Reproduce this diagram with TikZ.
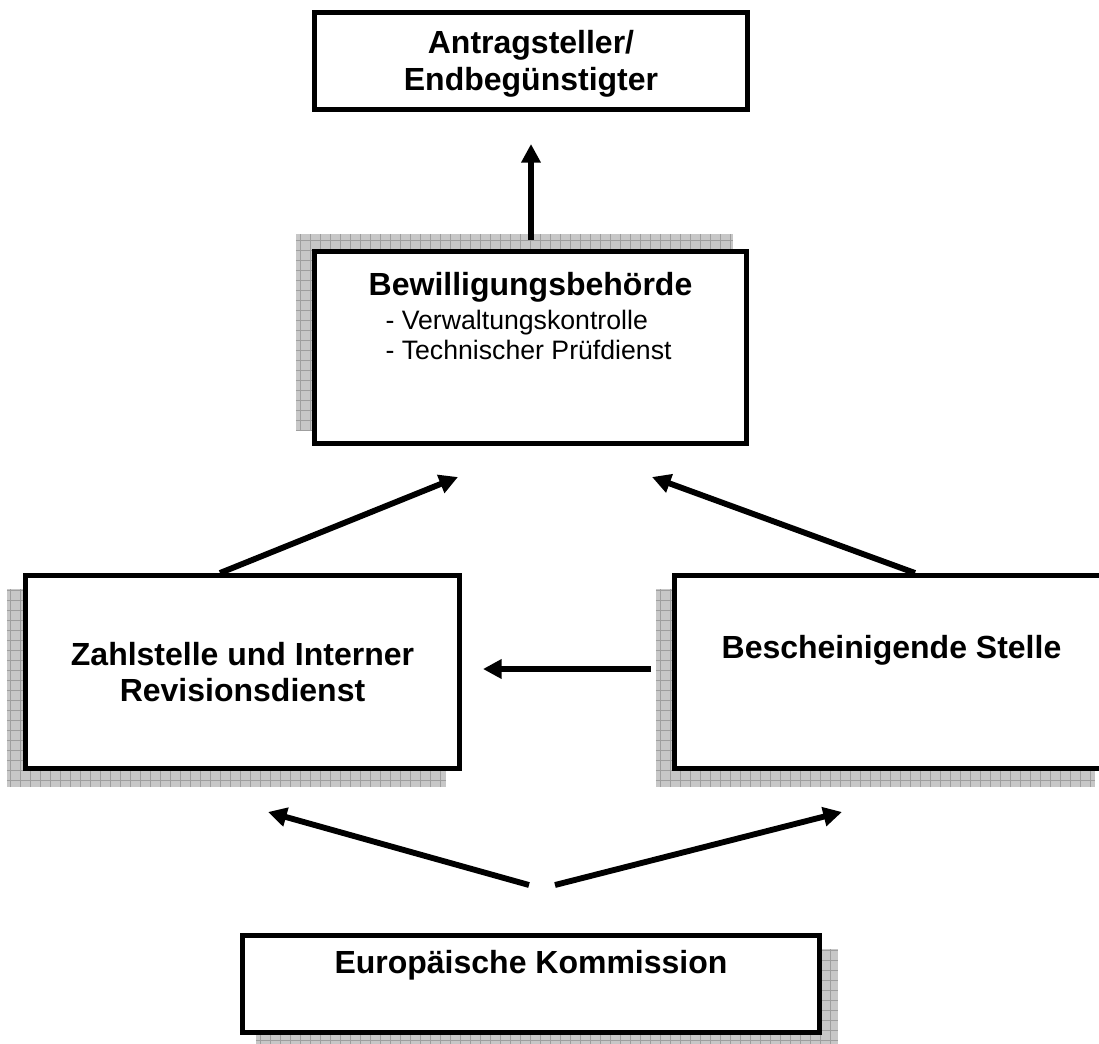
\documentclass[tikz,border=0pt]{standalone}
\usepackage{fontspec}
\setmainfont{Liberation Sans}
\usetikzlibrary{arrows.meta, calc, backgrounds}
\tikzset{
    box/.style = {draw, line width=1.9pt, fill=white, inner sep=0pt, align=center,
        font=\fontsize{12}{13.8}\selectfont\bfseries},
    title/.style = {inner sep=0pt, font=\fontsize{12}{13.8}\selectfont\bfseries},
    sub/.style = {inner sep=0pt, align=left, font=\fontsize{10}{11.3}\selectfont},
    flow/.style = {line width=2.2pt, -{Triangle[length=7pt, width=7pt]}},
}
\tikzset{
    shadow fill/.style = {fill=black!22},
    shadow grid/.style = {draw=black!38, line width=0.3pt, step=3.75pt},
}

\begin{document}
\begin{tikzpicture}[x=0.375pt, y=-0.375pt]
                \useasboundingbox (0,0) rectangle (1099,1044);
                \clip (0,0) rectangle (1099,1044);

                \node[box, minimum width=162.4pt, minimum height=36.4pt] (antrag) at (531, 61) {};
                \node[title, align=center] (antragtitle) at (531, 64) {Antragsteller/\\Endbegünstigter};

                \node[box, minimum width=162pt, minimum height=72pt] (bew) at (530.5, 347.5) {};
                \node[title] (bewtitle) at (530.5, 287) {Bewilligungsbehörde};
                \node[sub, anchor=west] (bewlist) at (385, 335) {- Verwaltungskontrolle\\- Technischer Prüfdienst};

                \node[box, minimum width=162.8pt, minimum height=72.4pt] (zahl) at (242.5, 672) {Zahlstelle und Interner\\Revisionsdienst};
                \node[box, minimum width=162.8pt, minimum height=72.4pt] (besch) at (891.5, 672) {};
                \node[title] (beschtitle) at (891.5, 650) {Bescheinigende Stelle};

                \node[box, minimum width=216.4pt, minimum height=36.4pt] (ek) at (531, 984) {};
                \node[title] (ektitle) at (531, 965) {Europäische Kommission};

                \begin{scope}[on background layer]
                    \foreach \b/\dx/\dy in {bew/-16/-15, zahl/-16/16, besch/-16/16, ek/16/16} {
                        \fill[shadow fill] ($(\b.north west)+(\dx,\dy)$) rectangle ($(\b.south east)+(\dx,\dy)$);
                        \draw[shadow grid] ($(\b.north west)+(\dx,\dy)$) grid ($(\b.south east)+(\dx,\dy)$);
                    }
                \end{scope}

                \coordinate (bew out) at (531, 240);
                \coordinate (antrag in) at (531, 144);
                \coordinate (zahl out) at (220, 573);
                \coordinate (bew in l) at (458, 477);
                \coordinate (besch out) at (915, 573);
                \coordinate (bew in r) at (652, 477);
                \coordinate (besch side) at (651, 669);
                \coordinate (zahl side) at (483, 669);
                \coordinate (ek out l) at (529, 885);
                \coordinate (zahl in) at (268, 812);
                \coordinate (ek out r) at (555, 885);
                \coordinate (besch in) at (842, 812);

                \draw[flow] (bew out) -- (antrag in);
                \draw[flow] (zahl out) -- (bew in l);
                \draw[flow] (besch out) -- (bew in r);
                \draw[flow] (besch side) -- (zahl side);
                \draw[flow] (ek out l) -- (zahl in);
                \draw[flow] (ek out r) -- (besch in);
            \end{tikzpicture}
\end{document}
